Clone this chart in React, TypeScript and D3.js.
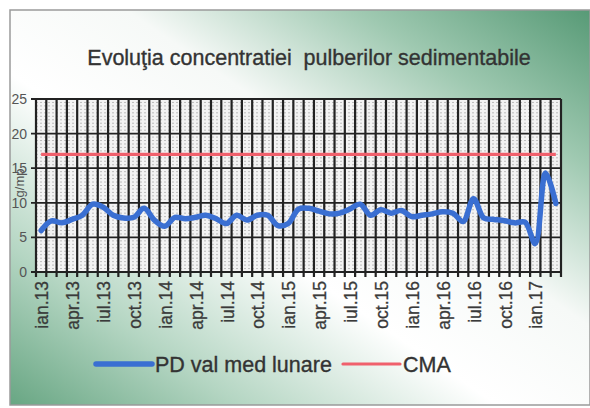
import React from "react";
import * as d3 from "d3";

const months = ["ian", "feb", "mar", "apr", "mai", "iun", "iul", "aug", "sep", "oct", "noi", "dec"];
const categories: string[] = [];
for (let y = 13; y <= 17; y++) {
  for (let m = 0; m < 12; m++) {
    if (y === 17 && m > 2) break;
    categories.push(`${months[m]}.${y}`);
  }
}
const pdValues = [
  6.0, 7.4, 7.1, 7.6, 8.2, 9.8, 9.4, 8.2, 7.8, 7.9, 9.2, 7.5,
  6.6, 7.9, 7.7, 7.9, 8.2, 7.7, 7.0, 8.2, 7.5, 8.2, 8.2, 6.7,
  7.0, 9.1, 9.2, 8.8, 8.4, 8.5, 9.1, 9.8, 8.2, 9.0, 8.5, 8.9,
  8.0, 8.2, 8.4, 8.7, 8.5, 7.3, 10.6, 7.8, 7.6, 7.4, 7.1, 7.2,
  4.1, 14.3, 9.9,
];
const cmaValue = 17;
const yTicks = [0, 5, 10, 15, 20, 25];
const title = "Evoluţia concentratiei  pulberilor sedimentabile";
const yLabel = "g/mp";
const seriesNames = ["PD val med lunare", "CMA"];

const W = 590, H = 408;
const plot = { left: 36, right: 561, top: 99, bottom: 272 };
const FONT = "'Liberation Sans', Arial, sans-serif";

export default function App() {
  const x = d3.scaleBand<number>().domain(d3.range(categories.length)).range([plot.left, plot.right]).padding(0);
  const y = d3.scaleLinear().domain([0, 25]).range([plot.bottom, plot.top]);
  const cx = (i: number) => (x(i) as number) + x.bandwidth() / 2;
  const line = d3.line<number>().x((_, i) => cx(i)).y((d) => y(d)).curve(d3.curveCatmullRom.alpha(0.5));
  const minor = d3.range(0, 25, 0.5).filter((v) => v % 5 !== 0);
  const bounds = d3.range(categories.length + 1).map((i) => plot.left + i * x.bandwidth());

  return (
    <svg width={W} height={H} style={{ position: "absolute", left: 0, top: 0 }} fontFamily={FONT}>
      <defs>
        <linearGradient id="bg" x1="0" y1="1" x2="1" y2="0">
          <stop offset="0" stopColor="#68a683" />
          <stop offset="0.2" stopColor="#b5d6c3" />
          <stop offset="0.42" stopColor="#ffffff" />
          <stop offset="0.6" stopColor="#f6f9f7" />
          <stop offset="0.8" stopColor="#9fc9b1" />
          <stop offset="1" stopColor="#579a76" />
        </linearGradient>
      </defs>
      <rect x={0} y={0} width={W} height={H} fill="#ffffff" />
      <rect x={10} y={10} width={580} height={395} fill="url(#bg)" stroke="#9a9a9a" strokeWidth={1.5} />
      <text x={309} y={65} textAnchor="middle" fontSize={21.5} fill="#333" stroke="#333" strokeWidth={0.35} style={{ whiteSpace: "pre" }}>{title}</text>

      <rect x={plot.left} y={plot.top} width={plot.right - plot.left} height={plot.bottom - plot.top} fill="#f3f3f3" />
      {minor.map((v) => (
        <line key={"m" + v} x1={plot.left} x2={plot.right} y1={y(v)} y2={y(v)} stroke="#b5b5b5" strokeWidth={0.9} strokeDasharray="2,2" />
      ))}
      {bounds.map((bx, i) => (
        <line key={"v" + i} x1={bx} x2={bx} y1={plot.top} y2={plot.bottom + 5} stroke="#222" strokeWidth={2.2} />
      ))}
      {yTicks.map((t) => (
        <g key={"y" + t}>
          <line x1={plot.left - 5} x2={plot.right} y1={y(t)} y2={y(t)} stroke="#222" strokeWidth={t === 0 ? 2.2 : 1.8} />
          <text x={27} y={y(t)} dy="0.35em" textAnchor="end" fontSize={14} fill="#555">{t}</text>
        </g>
      ))}

      <line x1={cx(0)} x2={cx(categories.length - 1)} y1={y(cmaValue)} y2={y(cmaValue)} stroke="#f0606c" strokeWidth={3.2} />
      <path d={line(pdValues) as string} fill="none" stroke="#3a6fd2" strokeWidth={5.5} strokeLinejoin="round" strokeLinecap="round" />

      <text transform={`translate(24,183) rotate(-90)`} textAnchor="middle" fontSize={13} fill="#555">{yLabel}</text>

      {categories.map((c, i) =>
        i % 3 === 0 ? (
          <text key={c} transform={`translate(${cx(i) + 1},281) rotate(-90)`} textAnchor="end" dy="0.35em" fontSize={17.5} fill="#3a3a3a" stroke="#3a3a3a" strokeWidth={0.3}>
            {c}
          </text>
        ) : null
      )}

      <line x1={96} x2={152} y1={364} y2={364} stroke="#3a6fd2" strokeWidth={5.5} strokeLinecap="round" />
      <text x={155} y={372} fontSize={21.5} fill="#333" stroke="#333" strokeWidth={0.35}>{seriesNames[0]}</text>
      <line x1={343} x2={400} y1={364} y2={364} stroke="#f0606c" strokeWidth={3.2} strokeLinecap="round" />
      <text x={403} y={372} fontSize={21.5} fill="#333" stroke="#333" strokeWidth={0.35}>{seriesNames[1]}</text>
    </svg>
  );
}
